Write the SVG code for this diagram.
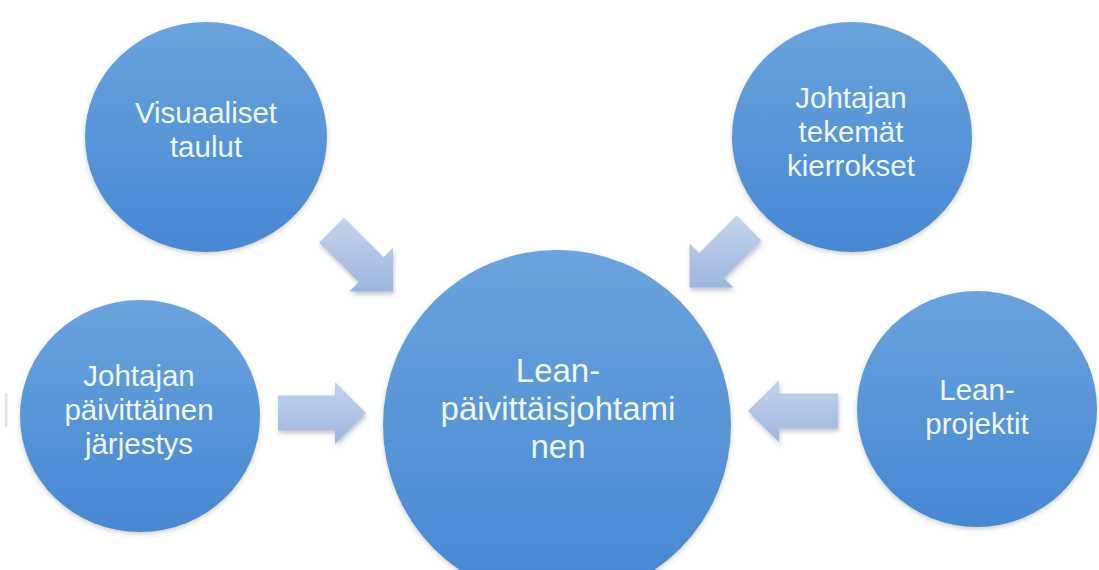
<svg xmlns="http://www.w3.org/2000/svg" width="1099" height="570" viewBox="0 0 1099 570">
  <defs>
    <linearGradient id="gCircle" x1="0" y1="0" x2="0" y2="1">
      <stop offset="0" stop-color="#6aa3dd"/>
      <stop offset="1" stop-color="#4588d2"/>
    </linearGradient>
    <linearGradient id="gArrow" x1="0" y1="0" x2="0" y2="1">
      <stop offset="0" stop-color="#c4d4ee"/>
      <stop offset="1" stop-color="#9db6dd"/>
    </linearGradient>
    <filter id="shCircle" x="-10%" y="-10%" width="120%" height="125%">
      <feDropShadow dx="0" dy="2" stdDeviation="2.5" flood-color="#5a4a30" flood-opacity="0.28"/>
    </filter>
    <filter id="shArrow" x="-20%" y="-20%" width="140%" height="150%">
      <feDropShadow dx="1" dy="3" stdDeviation="2" flood-color="#556070" flood-opacity="0.35"/>
    </filter>
    <style>
      .node { fill: url(#gCircle); filter: url(#shCircle); }
      .arrow { fill: url(#gArrow); filter: url(#shArrow); }
      .lbl { font-family: "Liberation Sans", Arial, sans-serif; font-size: 29.5px; fill: #eef7ff; text-anchor: middle; }
      .lblc { font-size: 33px; }
    </style>
  </defs>
  <rect width="1099" height="570" fill="#ffffff"/>
  <rect x="5" y="393" width="2.5" height="34" fill="#e4e4e4"/>

  <g id="connectors">
    <path class="arrow" d="M343.9,217.6 L383.5,257.2 L393,247.7 L393,291.5 L349.2,291.5 L358.7,282 L319.1,242.4 Z"/>
    <path class="arrow" d="M736.6,215.6 L699.1,253.1 L689.6,243.6 L689.6,287.4 L733.4,287.4 L723.9,277.9 L761.4,240.4 Z"/>
    <path class="arrow" d="M278,395.5 L335,395.5 L335,382 L366,413 L335,444 L335,430.5 L278,430.5 Z"/>
    <path class="arrow" d="M838,393.5 L779,393.5 L779,380 L748,411 L779,442 L779,428.5 L838,428.5 Z"/>
  </g>

  <g id="node-visuaaliset">
    <ellipse class="node" cx="206" cy="137" rx="121" ry="115"/>
    <text class="lbl" x="206" y="123">Visuaaliset</text>
    <text class="lbl" x="206" y="157">taulut</text>
  </g>

  <g id="node-kierrokset">
    <ellipse class="node" cx="852" cy="137" rx="120" ry="115"/>
    <text class="lbl" x="851" y="108">Johtajan</text>
    <text class="lbl" x="851" y="142">tekemät</text>
    <text class="lbl" x="851" y="176">kierrokset</text>
  </g>

  <g id="node-jarjestys">
    <ellipse class="node" cx="140" cy="416" rx="120" ry="116"/>
    <text class="lbl" x="139" y="386">Johtajan</text>
    <text class="lbl" x="139" y="420">päivittäinen</text>
    <text class="lbl" x="139" y="454">järjestys</text>
  </g>

  <g id="node-projektit">
    <ellipse class="node" cx="977" cy="409" rx="120" ry="118"/>
    <text class="lbl" x="977" y="400">Lean-</text>
    <text class="lbl" x="977" y="434">projektit</text>
  </g>

  <g id="node-center">
    <ellipse class="node" cx="557" cy="425" rx="174" ry="175"/>
    <text class="lbl lblc" x="558" y="382">Lean-</text>
    <text class="lbl lblc" x="558" y="420">päivittäisjohtami</text>
    <text class="lbl lblc" x="558" y="458">nen</text>
  </g>
</svg>
